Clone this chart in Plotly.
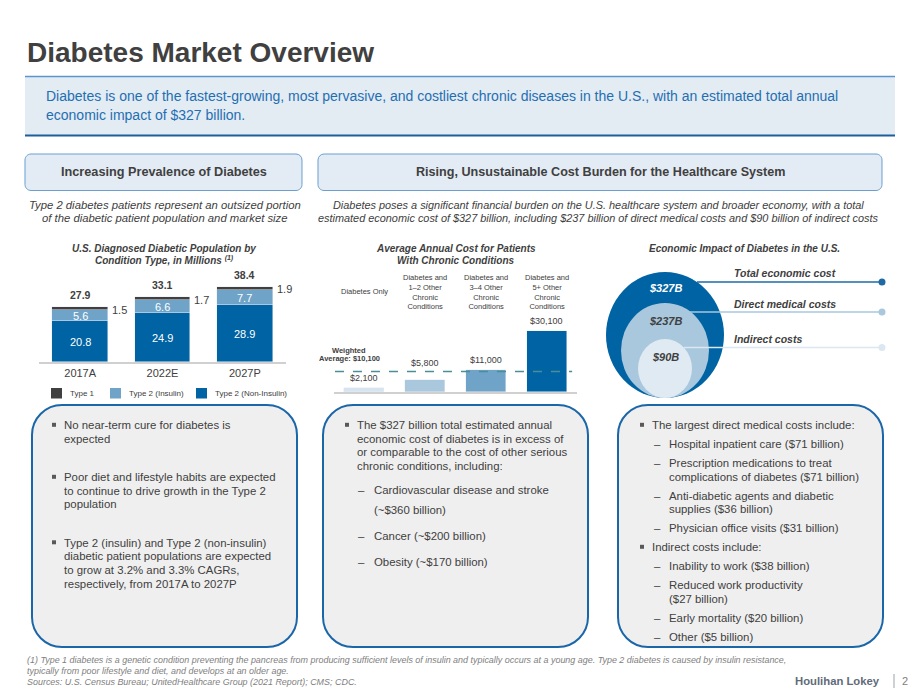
import plotly.graph_objects as go

W, H = 920, 690
FONT = "Liberation Sans, Arial, sans-serif"
GRAY = "#404040"
DARK_BLUE = "#0063a3"
MID_BLUE = "#6fa3c7"
LIGHT_BLUE = "#a9c7dd"
PALE_BLUE = "#d6e4ef"
TYPE1 = "#404040"

# ---------------- data ----------------
years = ["2017A", "2022E", "2027P"]
type1 = [1.5, 1.7, 1.9]
type2_insulin = [5.6, 6.6, 7.7]
type2_non_insulin = [20.8, 24.9, 28.9]
totals = [27.9, 33.1, 38.4]
legend_labels = ["Type 1", "Type 2 (Insulin)", "Type 2 (Non-Insulin)"]

cost_categories = [
    "Diabetes Only",
    "Diabetes and<br>1–2 Other<br>Chronic<br>Conditions",
    "Diabetes and<br>3–4 Other<br>Chronic<br>Conditions",
    "Diabetes and<br>5+ Other<br>Chronic<br>Conditions",
]
cost_values = [2100, 5800, 11000, 30100]
cost_labels = ["$2,100", "$5,800", "$11,000", "$30,100"]
weighted_average = 10100

impact_labels = ["Total economic cost", "Direct medical costs", "Indirect costs"]
impact_values = ["$327B", "$237B", "$90B"]


def X(px):
    return px / W


def Y(py):
    return 1 - py / H


fig = go.Figure()

# ---------------- chart 1: stacked bars ----------------
bw1 = 0.675
fig.add_trace(go.Bar(x=years, y=type2_non_insulin, marker_color=DARK_BLUE, width=bw1,
                     xaxis="x", yaxis="y", showlegend=False, hoverinfo="skip"))
fig.add_trace(go.Bar(x=years, y=type2_insulin, marker_color=MID_BLUE, width=bw1,
                     xaxis="x", yaxis="y", showlegend=False, hoverinfo="skip"))
fig.add_trace(go.Bar(x=years, y=type1, marker_color=TYPE1, width=bw1,
                     xaxis="x", yaxis="y", showlegend=False, hoverinfo="skip"))

# ---------------- chart 2: cost bars ----------------
cost_colors = [PALE_BLUE, LIGHT_BLUE, MID_BLUE, DARK_BLUE]
fig.add_trace(go.Bar(x=list(range(4)), y=cost_values, marker_color=cost_colors, width=0.66,
                     xaxis="x2", yaxis="y2", showlegend=False, hoverinfo="skip"))

annotations = []
shapes = []


def txt(x, y, s, size=11, color=GRAY, anchor="left", family=FONT, xref="paper", yref="paper", yanchor="middle", **kw):
    if xref == "paper":
        x = X(x)
    if yref == "paper":
        y = Y(y)
    annotations.append(dict(x=x, y=y, xref=xref, yref=yref, text=s, showarrow=False,
                            xanchor=anchor, yanchor=yanchor,
                            font=dict(family=family, size=size, color=color), **kw))


def rect(x0, y0, x1, y1, fill, line_color=None, lw=0, layer="above"):
    shapes.append(dict(type="rect", xref="paper", yref="paper", x0=X(x0), x1=X(x1), y0=Y(y0), y1=Y(y1),
                       fillcolor=fill, line=dict(color=line_color or fill, width=lw), layer=layer))


def line(x0, y0, x1, y1, color, lw=1, dash="solid"):
    shapes.append(dict(type="line", xref="paper", yref="paper", x0=X(x0), x1=X(x1), y0=Y(y0), y1=Y(y1),
                       line=dict(color=color, width=lw, dash=dash)))


def rrect(x0, y0, x1, y1, r, fill, line_color, lw):
    k = 0.5523 * r
    pts = [
        ("M", [(x0 + r, y0)]),
        ("L", [(x1 - r, y0)]),
        ("C", [(x1 - r + k, y0), (x1, y0 + r - k), (x1, y0 + r)]),
        ("L", [(x1, y1 - r)]),
        ("C", [(x1, y1 - r + k), (x1 - r + k, y1), (x1 - r, y1)]),
        ("L", [(x0 + r, y1)]),
        ("C", [(x0 + r - k, y1), (x0, y1 - r + k), (x0, y1 - r)]),
        ("L", [(x0, y0 + r)]),
        ("C", [(x0, y0 + r - k), (x0 + r - k, y0), (x0 + r, y0)]),
    ]
    p = ""
    for cmd, ps in pts:
        p += cmd + " " + " ".join(f"{X(a):.5f},{Y(b):.5f}" for a, b in ps) + " "
    p += "Z"
    shapes.append(dict(type="path", xref="paper", yref="paper", path=p, fillcolor=fill,
                       line=dict(color=line_color, width=lw)))


def circle(cx0, cy0, cx1, cy1, fill):
    shapes.append(dict(type="circle", xref="paper", yref="paper", x0=X(cx0), x1=X(cx1), y0=Y(cy1), y1=Y(cy0),
                       fillcolor=fill, line=dict(width=0)))


# ---------------- header ----------------
txt(25, 52, "<b>Diabetes Market Overview</b>", size=28, color=GRAY)
rect(25, 76, 895, 135.5, "#e3ebf3")
line(25, 76.5, 895, 76.5, "#5b95cf", 1.5)
line(25, 135.5, 895, 135.5, "#1d5f9e", 2)
txt(44, 96, "Diabetes is one of the fastest-growing, most pervasive, and costliest chronic diseases in the U.S., with an estimated total annual",
    size=14, color="#1f6fb2")
txt(44, 114.5, "economic impact of $327 billion.", size=14, color="#1f6fb2")

# section headers
rrect(25, 154, 302, 190.5, 6, "#e3ecf5", "#6a9fd0", 1)
rrect(318, 154, 882, 190.5, 6, "#e3ecf5", "#6a9fd0", 1)
txt(164, 172, "<b>Increasing Prevalence of Diabetes</b>", size=12.7, color=GRAY, anchor="center")
txt(601, 172, "<b>Rising, Unsustainable Cost Burden for the Healthcare System</b>", size=12.6, color=GRAY,
    anchor="center")
txt(165, 205, "<i>Type 2 diabetes patients represent an outsized portion</i>", size=11.3, anchor="center")
txt(165, 218, "<i>of the diabetic patient population and market size</i>", size=11.3, anchor="center")
txt(598, 205, "<i>Diabetes poses a significant financial burden on the U.S. healthcare system and broader economy, with a total</i>",
    size=10.9, anchor="center")
txt(598, 218, "<i>estimated economic cost of $327 billion, including $237 billion of direct medical costs and $90 billion of indirect costs</i>",
    size=10.9, anchor="center")

# ---------------- chart 1 labels ----------------
txt(164, 248, "<b><i>U.S. Diagnosed Diabetic Population by</i></b>", size=10, anchor="center")
txt(164, 260, "<b><i>Condition Type, in Millions <sup>(1)</sup></i></b>", size=10, anchor="center")
for i, yr in enumerate(years):
    n, ins, t1, tot = type2_non_insulin[i], type2_insulin[i], type1[i], totals[i]
    txt(yr, n / 2, f"{n}", size=11, color="white", anchor="center", xref="x", yref="y")
    txt(yr, n + ins / 2, f"{ins}", size=11, color="white", anchor="center", xref="x", yref="y")
    txt(i + bw1 / 2, n + ins + t1 / 2, f"{t1}", size=11, color=GRAY, anchor="left", xref="x", yref="y",
        yshift=-1, xshift=2)
    txt(yr, tot, f"<b>{tot}</b>", size=10.5, color=GRAY, anchor="center", xref="x", yref="y",
        yanchor="bottom", yshift=4)

leg_x = [51, 110, 196]
leg_colors = [TYPE1, MID_BLUE, DARK_BLUE]
for lx, lc, lt in zip(leg_x, leg_colors, legend_labels):
    rect(lx, 388, lx + 11, 398.5, lc)
    txt(lx + 17, 393.5, lt, size=8, color=GRAY)

# ---------------- chart 2 labels ----------------
px_per_unit2 = 61 / 30100
y2_top = (392 - 318) / px_per_unit2

txt(456, 248, "<b><i>Average Annual Cost for Patients</i></b>", size=10, anchor="center")
txt(456, 260, "<b><i>With Chronic Conditions</i></b>", size=10, anchor="center")
for i, c in enumerate(cost_categories):
    txt(i, 291.5, c, size=7.5, color=GRAY, anchor="center", xref="x2")
for i, (v, lab) in enumerate(zip(cost_values, cost_labels)):
    # lift a label above the average line when it would collide with it
    if v < weighted_average and (weighted_average - v) * px_per_unit2 < 14:
        base, shift = weighted_average, 2
    else:
        base, shift = v, 3
    txt(i, base, lab, size=9, color=GRAY, anchor="center", xref="x2", yref="y2",
        yanchor="bottom", yshift=shift)
shapes.append(dict(type="line", xref="x2 domain", yref="y2", x0=0.004, x1=0.98,
                   y0=weighted_average, y1=weighted_average,
                   line=dict(color="#4a8f98", width=1.5, dash="dash")))
txt(349, 350, "<b>Weighted</b>", size=7.5, anchor="center")
txt(349, 359, f"<b>Average: ${weighted_average:,}</b>", size=7.5, anchor="center")

# ---------------- chart 3 ----------------
txt(744, 248, "<b><i>Economic Impact of Diabetes in the U.S.</i></b>", size=10, anchor="center")
circle(606, 272, 724, 398, DARK_BLUE)
circle(621, 303, 709, 398, LIGHT_BLUE)
circle(638, 339, 692, 398, "#dfeaf3")
line_specs = [(697, 282, "#1f6aa5"), (690, 312, LIGHT_BLUE), (684, 347.5, "#dce8f1")]
for (lx, ly, lc) in line_specs:
    line(lx, ly, 882, ly, lc, 1.5)
    shapes.append(dict(type="circle", xref="paper", yref="paper", x0=X(878.5), x1=X(885.5),
                       y0=Y(ly + 3.5), y1=Y(ly - 3.5), fillcolor=lc, line=dict(width=0)))
label_y = [273, 304, 339]
for ly, lt in zip(label_y, impact_labels):
    txt(732, ly, f"<b><i>{lt}</i></b>", size=10.5, color=GRAY)
val_y = [288, 321, 357]
val_colors = ["white", GRAY, GRAY]
for vy, vt, vc in zip(val_y, impact_values, val_colors):
    txt(665, vy, f"<b><i>{vt}</i></b>", size=11, color=vc, anchor="center")

# ---------------- bottom boxes ----------------
for bx0, bx1 in [(32, 297), (323, 588), (618, 883)]:
    rrect(bx0, 405, bx1, 647, 30, "#efefef", "#1a66a8", 2)

DASH = "–"
BSZ = 11.4


def bullet(bx, tx, y, lines_, step=14):
    rect(bx, y - 2.2, bx + 4, y + 1.8, "#595959")
    for j, l in enumerate(lines_):
        txt(tx, y + j * step, l, size=BSZ, color=GRAY)


def dash(dx, tx, y, lines_, step=14):
    txt(dx, y, DASH, size=BSZ, color=GRAY)
    for j, l in enumerate(lines_):
        txt(tx, y + j * step, l, size=BSZ, color=GRAY)


bullet(52, 62, 425, ["No near-term cure for diabetes is", "expected"])
bullet(52, 62, 477, ["Poor diet and lifestyle habits are expected", "to continue to drive growth in the Type 2", "population"], 13.7)
bullet(52, 62, 542.5, ["Type 2 (insulin) and Type 2 (non-insulin)", "diabetic patient populations are expected",
                       "to grow at 3.2% and 3.3% CAGRs,", "respectively, from 2017A to 2027P"], 13.7)

bullet(345, 355, 425, ["The $327 billion total estimated annual", "economic cost of diabetes is in excess of",
                       "or comparable to the cost of other serious", "chronic conditions, including:"], 13.7)
dash(356, 372, 489.5, ["Cardiovascular disease and stroke"])
txt(372, 510, "(~$360 billion)", size=BSZ, color=GRAY)
dash(356, 372, 536, ["Cancer (~$200 billion)"])
dash(356, 372, 562, ["Obesity (~$170 billion)"])

bullet(640, 650, 425, ["The largest direct medical costs include:"])
dash(652, 667, 444, ["Hospital inpatient care ($71 billion)"])
dash(652, 667, 463, ["Prescription medications to treat", "complications of diabetes ($71 billion)"], 13.5)
dash(652, 667, 495.5, ["Anti-diabetic agents and diabetic", "supplies ($36 billion)"], 13.5)
dash(652, 667, 528, ["Physician office visits ($31 billion)"])
bullet(640, 650, 547, ["Indirect costs include:"])
dash(652, 667, 566, ["Inability to work ($38 billion)"])
dash(652, 667, 585, ["Reduced work productivity", "($27 billion)"], 14)
dash(652, 667, 618, ["Early mortality ($20 billion)"])
dash(652, 667, 636.5, ["Other ($5 billion)"])

# ---------------- footer ----------------
FOOT = "#808080"
txt(25, 660, "<i>(1) Type 1 diabetes is a genetic condition preventing the pancreas from producing sufficient levels of insulin and typically occurs at a young age. Type 2 diabetes is caused by insulin resistance,</i>",
    size=8.95, color=FOOT)
txt(25, 671, "<i>typically from poor lifestyle and diet, and develops at an older age.</i>", size=8.95, color=FOOT)
txt(25, 682, "<i>Sources: U.S. Census Bureau; UnitedHealthcare Group (2021 Report); CMS; CDC.</i>", size=8.95, color=FOOT)
txt(882, 681, "<b>Houlihan Lokey</b>", size=11.3, color="#5f6b7a", anchor="right")
line(894, 674, 894, 688, "#9aa3ad", 1)
txt(905, 681, "2", size=11, color="#808080", anchor="center")

# ---------------- layout ----------------
px_per_unit1 = 1.96
y1_top = (362 - 280) / px_per_unit1

fig.update_layout(
    width=W, height=H, margin=dict(l=0, r=0, t=0, b=0),
    paper_bgcolor="white", plot_bgcolor="rgba(0,0,0,0)",
    barmode="stack", bargap=0,
    font=dict(family=FONT, color=GRAY),
    xaxis=dict(domain=[X(39), X(286)], range=[-0.5, 2.5], showgrid=False, zeroline=False,
               showline=True, linecolor="#d0d0d0", linewidth=1.5, ticks="",
               tickfont=dict(family=FONT, size=11, color=GRAY), fixedrange=True, anchor="y"),
    yaxis=dict(domain=[Y(362), Y(280)], range=[0, y1_top], visible=False, fixedrange=True, anchor="x"),
    xaxis2=dict(domain=[X(334), X(577)], range=[-0.5, 3.5], showgrid=False, zeroline=False,
                showline=True, linecolor="#d0d0d0", linewidth=1.5, showticklabels=False, ticks="",
                fixedrange=True, anchor="y2"),
    yaxis2=dict(domain=[Y(392), Y(318)], range=[0, y2_top], visible=False, fixedrange=True, anchor="x2"),
    shapes=shapes, annotations=annotations, showlegend=False,
)

fig.write_html("out.html")
